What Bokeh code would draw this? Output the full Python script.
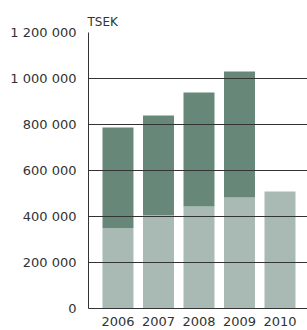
from bokeh.plotting import figure
from bokeh.models import FixedTicker, Range1d
from bokeh.embed import file_html
from bokeh.resources import INLINE

years = ["2006", "2007", "2008", "2009", "2010"]
base_values = [349000, 405000, 443000, 483000, 509000]
upper_values = [438000, 434000, 496000, 547000, 0]
y_ticks = [0, 200000, 400000, 600000, 800000, 1000000, 1200000]
y_tick_labels = ["0", "200 000", "400 000", "600 000", "800 000", "1 000 000", "1 200 000"]
unit_label = "TSEK"

xs = list(range(len(years)))
tops = [b + u for b, u in zip(base_values, upper_values)]

p = figure(width=307, height=330, output_backend="svg", toolbar_location=None,
           x_range=Range1d(-0.728, len(years) - 1 + 0.679),
           y_range=Range1d(0, 1200000),
           title=unit_label,
           min_border_left=88, min_border_right=0, min_border_top=32, min_border_bottom=22)
p.outline_line_color = None
p.background_fill_color = "white"
p.border_fill_color = "white"

font = "DejaVu Sans"
p.title.text_font = font
p.title.text_font_size = "12px"
p.title.text_font_style = "normal"
p.title.text_color = "#333333"
p.title.align = "left"
p.title.offset = -1
p.title.standoff = 8

p.vbar(x=xs, bottom=0, top=base_values, width=0.765, fill_color="#a9b9b4", line_color=None)
p.vbar(x=xs, bottom=base_values, top=tops, width=0.765, fill_color="#678879", line_color=None)

p.xgrid.visible = False
p.ygrid.ticker = FixedTicker(ticks=y_ticks)
p.ygrid.grid_line_color = "#333333"
p.ygrid.grid_line_width = 1
p.ygrid.level = "overlay"

p.yaxis.ticker = FixedTicker(ticks=y_ticks)
p.yaxis.major_label_overrides = {t: l for t, l in zip(y_ticks, y_tick_labels)}
p.xaxis.ticker = FixedTicker(ticks=xs)
p.xaxis.major_label_overrides = {i: y for i, y in zip(xs, years)}
for ax in (p.xaxis[0], p.yaxis[0]):
    ax.major_tick_in = 0
    ax.major_tick_out = 0
    ax.minor_tick_line_color = None
    ax.axis_line_color = "#333333"
    ax.axis_line_width = 1
    ax.major_label_text_font = font
    ax.major_label_text_font_size = "13px"
    ax.major_label_text_color = "#333333"
p.yaxis.major_label_standoff = 12
p.xaxis.major_label_standoff = 8

open("out.html", "w").write(file_html(p, INLINE))
